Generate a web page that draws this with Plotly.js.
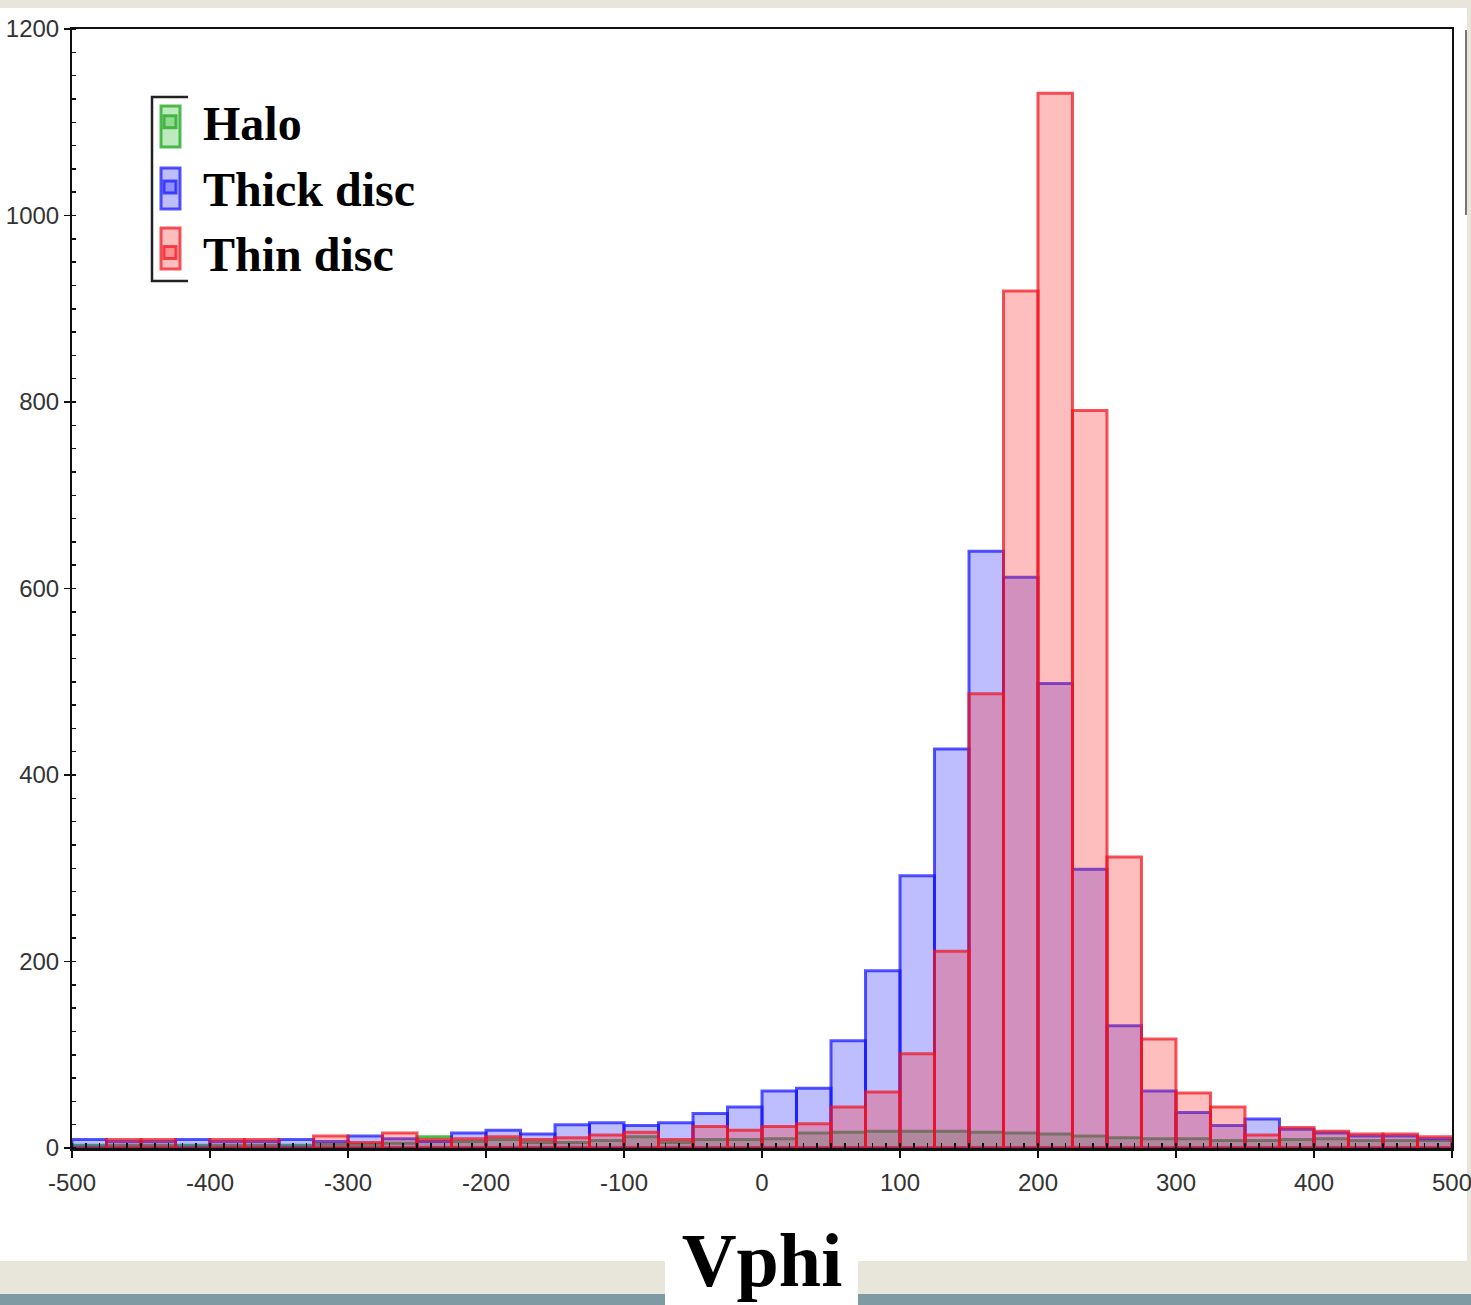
<!DOCTYPE html>
<html>
<head>
<meta charset="utf-8">
<script src="https://cdn.plot.ly/plotly-3.0.1.min.js"></script>
<style>
  html, body { margin: 0; padding: 0; background: #e8e6da; }
  #chart { width: 1471px; height: 1305px; }
</style>
</head>
<body>
<div id="chart"></div>
<script>
// Bin centres of the Vphi histogram (bin width 25 km/s)
const vphiBins = [
  -487.5, -462.5, -437.5, -412.5, -387.5, -362.5, -337.5, -312.5, -287.5, -262.5,
  -237.5, -212.5, -187.5, -162.5, -137.5, -112.5,  -87.5,  -62.5,  -37.5,  -12.5,
    12.5,   37.5,   62.5,   87.5,  112.5,  137.5,  162.5,  187.5,  212.5,  237.5,
   262.5,  287.5,  312.5,  337.5,  362.5,  387.5,  412.5,  437.5,  462.5,  487.5
];
const binWidth = 25;

// Counts per bin
const haloCounts = [
  3, 3, 3, 3, 3, 3, 3, 4, 4, 5,
  12, 7, 9, 6, 6, 8, 12, 6, 9, 9,
  10, 16, 17, 18, 18, 18, 17, 16, 15, 13,
  11, 10, 10, 8, 8, 9, 10, 8, 8, 8
];
const thickCounts = [
  9, 7, 7, 9, 7, 7, 9, 7, 13, 10,
  7, 16, 19, 15, 25, 27, 24, 27, 37, 44,
  61, 64, 115, 190, 292, 428, 640, 612, 498, 299,
  131, 61, 38, 24, 31, 20, 16, 13, 13, 10
];
const thinCounts = [
  0, 9, 9, 0, 9, 9, 0, 13, 6, 16,
  9, 10, 12, 9, 11, 14, 17, 9, 23, 19,
  23, 26, 44, 60, 101, 211, 487, 919, 1131, 791,
  312, 117, 59, 44, 14, 22, 18, 15, 15, 12
];

const seriesNames = ['Halo', 'Thick disc', 'Thin disc'];
const xTickVals = [-500, -400, -300, -200, -100, 0, 100, 200, 300, 400, 500];
const yTickVals = [0, 200, 400, 600, 800, 1000, 1200];

const fills = ['rgba(40,190,40,0.30)', 'rgba(40,40,255,0.30)', 'rgba(255,40,40,0.30)'];
const lines = ['rgba(40,170,40,0.80)', 'rgba(20,20,255,0.72)', 'rgba(240,20,30,0.72)'];
const counts = [haloCounts, thickCounts, thinCounts];

const traces = counts.map((c, i) => ({
  type: 'bar',
  name: seriesNames[i],
  x: vphiBins,
  y: c,
  width: binWidth,
  marker: { color: fills[i], line: { color: lines[i], width: 3 } },
  hoverinfo: 'x+y+name'
}));

// plot-area geometry helpers (decoration only)
const L = 72, R = 19, T = 29, B = 157, W = 1471, H = 1305;
const pw = W - L - R, ph = H - T - B;
const px = v => (v - L) / pw;
const py = v => 1 - (v - T) / ph;

const shapes = [
  // blue-grey strip at the very bottom of the slide
  { type: 'rect', xref: 'paper', yref: 'paper', layer: 'below', x0: px(0), x1: px(W), y0: py(1294), y1: py(H),
    fillcolor: '#7f9aa3', line: { width: 0 } },
  // white sheet behind the chart
  { type: 'rect', xref: 'paper', yref: 'paper', layer: 'below', x0: px(0), x1: px(1467), y0: py(8), y1: py(1261),
    fillcolor: '#ffffff', line: { width: 0 } },
  // white box behind the axis title
  { type: 'rect', xref: 'paper', yref: 'paper', layer: 'below', x0: px(665), x1: px(858), y0: py(1258), y1: py(H),
    fillcolor: '#ffffff', line: { width: 0 } },
  // scrollbar sliver at the right
  { type: 'line', xref: 'paper', yref: 'paper', x0: px(1466), x1: px(1466), y0: py(30), y1: py(215),
    line: { color: '#777', width: 2 } },
  // legend bracket
  { type: 'path', xref: 'paper', yref: 'paper',
    path: `M ${px(188)} ${py(97)} L ${px(152)} ${py(97)} L ${px(152)} ${py(281)} L ${px(188)} ${py(281)}`,
    line: { color: '#222', width: 2.5 } },
  // tall legend swatches
  { type: 'rect', xref: 'paper', yref: 'paper', x0: px(161), x1: px(180), y0: py(106), y1: py(147),
    fillcolor: fills[0], line: { color: lines[0], width: 3 } },
  { type: 'rect', xref: 'paper', yref: 'paper', x0: px(161), x1: px(180), y0: py(168), y1: py(209),
    fillcolor: fills[1], line: { color: lines[1], width: 3 } },
  { type: 'rect', xref: 'paper', yref: 'paper', x0: px(161), x1: px(180), y0: py(228), y1: py(269),
    fillcolor: fills[2], line: { color: lines[2], width: 3 } }
];

const layout = {
  width: W, height: H,
  margin: { l: L, r: R, t: T, b: B },
  paper_bgcolor: '#e8e6da',
  plot_bgcolor: '#ffffff',
  barmode: 'overlay',
  bargap: 0,
  showlegend: true,
  legend: {
    x: px(137), xanchor: 'left', y: py(84), yanchor: 'top',
    bgcolor: 'rgba(0,0,0,0)', borderwidth: 0,
    font: { family: 'Liberation Serif, Times New Roman, serif', size: 48, color: '#000', weight: 'bold' },
    itemwidth: 56, tracegroupgap: 0
  },
  xaxis: {
    range: [-500.01, 500.01],
    tickvals: xTickVals,
    ticktext: xTickVals.map(String),
    ticks: 'outside', ticklen: 7, tickwidth: 1.5, tickcolor: '#111',
    ticklabeloverflow: 'allow', ticklabelstandoff: 5,
    minor: { dtick: 10, ticks: 'inside', ticklen: 5, tickwidth: 1.5, tickcolor: '#111' },
    showline: true, linecolor: '#111', linewidth: 2.5, mirror: true,
    showgrid: false, zeroline: false,
    tickfont: { family: 'Liberation Sans, Arial, sans-serif', size: 24, color: '#333' },
    title: { text: 'Vphi', standoff: 38,
      font: { family: 'Liberation Serif, Times New Roman, serif', size: 76, color: '#000', weight: 'bold' } }
  },
  yaxis: {
    range: [0, 1200],
    tickvals: yTickVals,
    ticktext: yTickVals.map(String),
    ticks: 'outside', ticklen: 6, tickwidth: 1.5, tickcolor: '#111',
    minor: { dtick: 25, ticks: 'inside', ticklen: 4, tickwidth: 1.5, tickcolor: '#111' },
    showline: true, linecolor: '#111', linewidth: 2, mirror: true,
    showgrid: false, zeroline: false,
    tickfont: { family: 'Liberation Sans, Arial, sans-serif', size: 24, color: '#333' }
  },
  shapes: shapes
};

Plotly.newPlot('chart', traces, layout, { displayModeBar: false, staticPlot: true });
</script>
</body>
</html>
